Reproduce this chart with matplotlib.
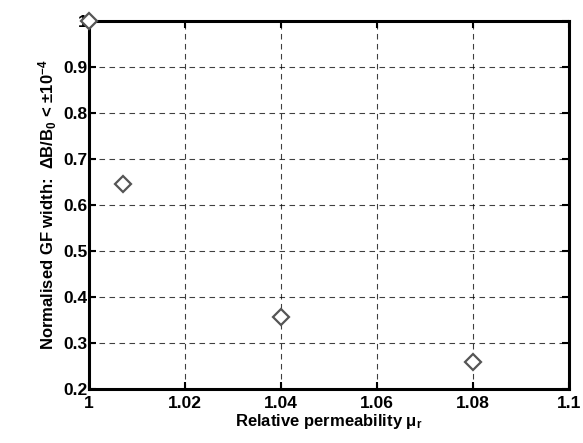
import matplotlib
matplotlib.use('Agg')
import matplotlib.pyplot as plt

# relative permeability vs normalised good-field width
mu_r = [1.0, 1.007, 1.04, 1.08]
gf_width = [1.0, 0.645, 0.356, 0.259]

xticks = [1, 1.02, 1.04, 1.06, 1.08, 1.1]
xticklabels = ['1', '1.02', '1.04', '1.06', '1.08', '1.1']
yticks = [0.2, 0.3, 0.4, 0.5, 0.6, 0.7, 0.8, 0.9, 1.0]
yticklabels = ['0.2', '0.3', '0.4', '0.5', '0.6', '0.7', '0.8', '0.9', '1']

plt.rcParams['font.family'] = ['Liberation Sans', 'DejaVu Sans']
plt.rcParams['font.weight'] = 'bold'
plt.rcParams['mathtext.fontset'] = 'custom'
plt.rcParams['mathtext.rm'] = 'Liberation Sans:bold'
plt.rcParams['mathtext.bf'] = 'Liberation Sans:bold'
plt.rcParams['mathtext.it'] = 'Liberation Sans:bold'
plt.rcParams['mathtext.default'] = 'bf'

fig = plt.figure(figsize=(5.83, 4.43), dpi=100)
ax = fig.add_axes([0.153, 0.122, 0.823, 0.831])

ax.plot(mu_r, gf_width, linestyle='none', marker='D', markersize=8.5,
        markerfacecolor='white', markeredgecolor='#555555', markeredgewidth=1.6,
        clip_on=False, zorder=5)

ax.set_xlim(1, 1.1)
ax.set_ylim(0.2, 1.0)
ax.set_xticks(xticks)
ax.set_xticklabels(xticklabels)
ax.set_yticks(yticks)
ax.set_yticklabels(yticklabels)
ax.tick_params(direction='in', top=True, right=True, labelsize=12.5, width=1.5, length=5, pad=1)
ax.tick_params(axis='x', pad=5)
for s in ax.spines.values():
    s.set_linewidth(2.2)
ax.grid(True, linestyle=(0, (5, 4)), color='black', linewidth=0.8, alpha=0.75)

ax.set_xlabel('Relative permeability μ$_r$', fontsize=12, fontweight='bold', labelpad=1)
ax.set_ylabel('Normalised GF width:  ΔB/B$_0$ < ±10$^{-4}$', fontsize=12, fontweight='bold', labelpad=3)

plt.savefig('out.png', dpi=100)
